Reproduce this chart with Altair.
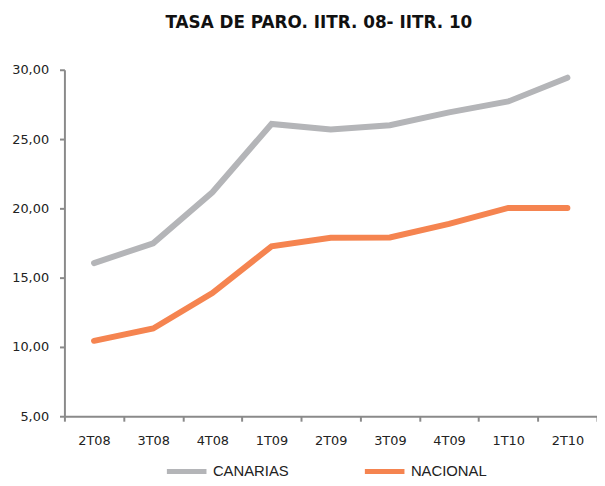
import altair as alt
import pandas as pd

quarters = ["2T08", "3T08", "4T08", "1T09", "2T09", "3T09", "4T09", "1T10", "2T10"]
canarias = [16.05, 17.48, 21.16, 26.09, 25.69, 26.00, 26.93, 27.71, 29.43]
nacional = [10.44, 11.33, 13.88, 17.26, 17.88, 17.90, 18.88, 20.03, 20.03]
series_names = ["CANARIAS", "NACIONAL"]
series_colors = ["#b4b5b8", "#f58450"]

rows = []
for q, c, n in zip(quarters, canarias, nacional):
    rows.append({"q": q, "serie": "CANARIAS", "v": c})
    rows.append({"q": q, "serie": "NACIONAL", "v": n})
df = pd.DataFrame(rows)

chart = alt.Chart(df).mark_line(strokeWidth=6, strokeCap="round", strokeJoin="miter").encode(
    x=alt.X("q:N", sort=quarters, bandPosition=0.5,
            scale=alt.Scale(type="band", paddingInner=0, paddingOuter=0),
            axis=alt.Axis(title=None, labelAngle=0, tickBand="extent", labelFontSize=13,
                          labelFont="DejaVu Sans", labelColor="#222222", labelPadding=14,
                          domainColor="#8a8a8a", domainWidth=2, tickColor="#8a8a8a",
                          tickWidth=2, tickSize=5)),
    y=alt.Y("v:Q", scale=alt.Scale(domain=[5, 30], nice=False, zero=False),
            axis=alt.Axis(title=None, values=[5, 10, 15, 20, 25, 30], grid=False,
                          labelExpr="replace(format(datum.value, '.2f'), '.', ',')",
                          labelFontSize=13, labelFont="DejaVu Sans", labelColor="#222222",
                          labelPadding=11, domainColor="#8a8a8a", domainWidth=2,
                          tickColor="#8a8a8a", tickWidth=2, tickSize=5)),
    color=alt.Color("serie:N", scale=alt.Scale(domain=series_names, range=series_colors),
                    legend=alt.Legend(title=None, orient="none", legendX=101, legendY=383,
                                      direction="horizontal", symbolType="stroke",
                                      symbolSize=1600, symbolStrokeWidth=5,
                                      labelFont="Liberation Sans", labelFontSize=15,
                                      labelColor="#222222", labelOffset=4,
                                      columnPadding=66)),
    order=alt.value(0),
).properties(
    width=538, height=350,
    title=alt.TitleParams("TASA DE PARO. IITR. 08- IITR. 10", font="DejaVu Sans",
                          fontSize=17, fontWeight="bold", color="#111111",
                          anchor="middle", offset=32, dx=-12),
    autosize=alt.AutoSizeParams(type="none"),
    padding={"left": 57, "top": 60, "right": 0, "bottom": 60},
).configure_view(stroke=None)

chart.save("out.html", embed_options={"renderer": "svg", "actions": False})
